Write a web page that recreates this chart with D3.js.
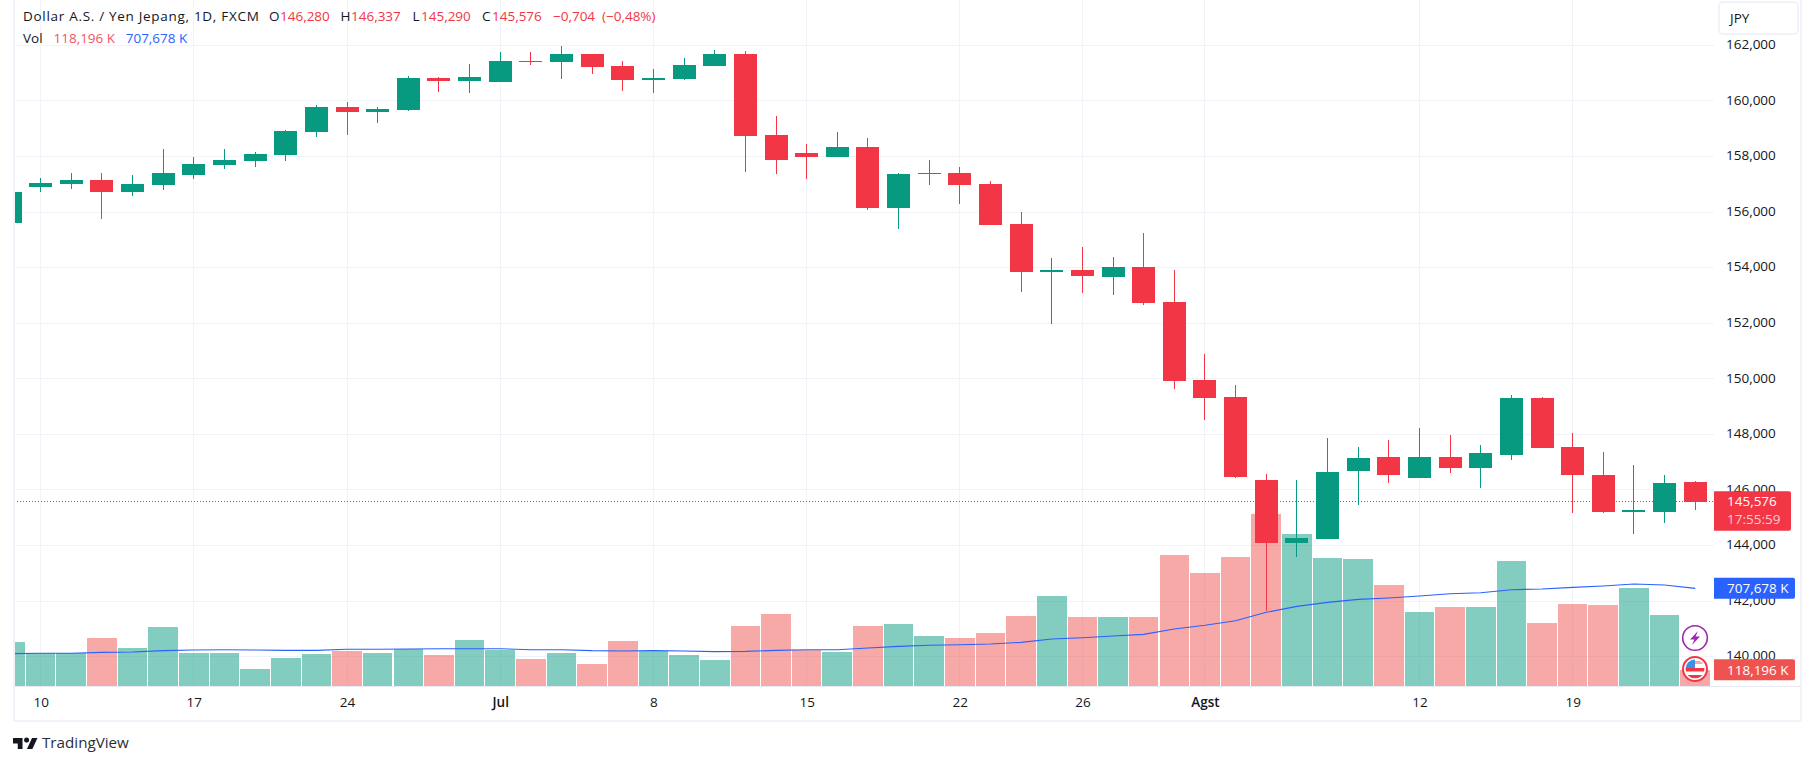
<!DOCTYPE html>
<html>
<head>
<meta charset="utf-8">
<script src="https://cdn.jsdelivr.net/npm/d3@7"></script>
<style>
  html, body { margin: 0; background: #fff; }
  svg { display: block; }
  text { font-family: "Open Sans", sans-serif; font-size: 13.5px; fill: #131722; }
  .domain { display: none; }
  .tick line { display: none; }
  .h-grid, .v-grid, .vol, .wick, .body, .frame, .last-line { shape-rendering: crispEdges; }
</style>
</head>
<body>
<svg id="chart"></svg>
<script>
var canvas_width = 1814;
var canvas_height = 765;

// daily bars, first one is cut off by the left edge of the pane
var opens = [155.61, 156.89, 157.00, 157.15, 156.71, 156.96, 157.33, 157.69, 157.83, 158.05,
  158.88, 159.78, 159.60, 159.67, 160.82, 160.71, 160.68, 161.44, 161.40, 161.69,
  161.26, 160.75, 160.79, 161.26, 161.69, 158.77, 158.12, 157.98, 158.34, 156.14,
  157.36, 157.40, 157.00, 155.56, 153.83, 153.90, 153.65, 154.01, 152.76, 149.95,
  149.34, 146.35, 144.10, 144.25, 146.67, 147.17, 146.41, 147.20, 146.77, 147.27,
  149.29, 147.56, 146.55, 145.22, 145.22, 146.280];
var highs = [156.71, 157.22, 157.42, 157.40, 157.33, 158.26, 157.98, 158.26, 158.16, 158.95,
  159.85, 159.96, 159.78, 160.90, 160.86, 161.33, 161.76, 161.76, 161.98, 161.69,
  161.44, 161.15, 161.54, 161.83, 161.80, 159.45, 158.44, 158.88, 158.66, 157.40,
  157.87, 157.62, 157.11, 156.00, 154.34, 154.73, 154.37, 155.24, 153.90, 150.89,
  149.77, 146.57, 146.37, 147.88, 147.53, 147.81, 148.21, 147.96, 147.60, 149.40,
  149.33, 148.03, 147.35, 146.88, 146.52, 146.337];
var lows = [155.61, 156.71, 156.82, 155.74, 156.57, 156.79, 157.18, 157.54, 157.62, 157.83,
  158.70, 158.77, 159.20, 159.63, 160.32, 160.28, 160.68, 161.29, 160.79, 160.97,
  160.35, 160.28, 160.75, 161.26, 157.44, 157.36, 157.18, 157.98, 156.07, 155.38,
  156.97, 156.28, 155.53, 153.11, 151.96, 153.07, 153.00, 152.64, 149.63, 148.51,
  146.42, 141.65, 143.60, 144.25, 145.45, 146.26, 146.41, 146.59, 146.05, 147.06,
  147.49, 145.18, 145.18, 144.43, 144.82, 145.290];
var closes = [156.71, 157.04, 157.15, 156.71, 157.00, 157.40, 157.72, 157.87, 158.08, 158.91,
  159.78, 159.60, 159.71, 160.82, 160.71, 160.86, 161.44, 161.40, 161.69, 161.22,
  160.75, 160.82, 161.29, 161.69, 158.73, 157.87, 157.98, 158.34, 156.14, 157.36,
  157.40, 156.97, 155.53, 153.83, 153.90, 153.69, 154.01, 152.71, 149.93, 149.30,
  146.46, 144.10, 144.28, 146.66, 147.16, 146.55, 147.20, 146.77, 147.31, 149.29,
  147.49, 146.52, 145.22, 145.26, 146.26, 145.576];
var volumes = [319, 237, 237, 348, 275, 427, 239, 239, 123, 203,
  232, 254, 239, 268, 225, 333, 263, 196, 239, 159,
  326, 254, 225, 188, 435, 522, 261, 246, 435, 449,
  362, 348, 384, 507, 652, 500, 500, 500, 949, 819,
  935, 1246, 1101, 927, 920, 732, 536, 572, 572, 906,
  456, 594, 587, 710, 514, 118.196];
var volume_ma = [234, 237, 237, 244, 246, 256, 261, 263, 261, 258,
  258, 266, 266, 268, 270, 270, 270, 263, 263, 256,
  254, 256, 254, 249, 251, 258, 263, 263, 275, 287,
  295, 299, 304, 316, 341, 350, 362, 374, 413, 440,
  473, 534, 577, 606, 628, 638, 652, 669, 676, 698,
  703, 715, 725, 739, 732, 707.678];

var price_ticks = [140, 142, 144, 146, 148, 150, 152, 154, 156, 158, 160, 162];
var time_tick_bars = [1, 6, 11, 16, 21, 26, 31, 35, 39, 46, 51];
var time_tick_labels = ["10", "17", "24", "Jul", "8", "15", "22", "26", "Agst", "12", "19"];
var bold_time_labels = ["Jul", "Agst"];

var last_price = 145.576;
var last_volume = 118.196;
var last_ma = 707.678;

var green = "#089981";
var red = "#f23645";
var vol_red = "#ef5350";
var blue = "#2962ff";
var border = "#f0f3fa";

var pane_left = 14;
var pane_right = 1714;
var pane_bottom = 686;
var body_width = 23;
var vol_width = 29.6;

var svg = d3.select("#chart").attr("width", canvas_width).attr("height", canvas_height);

var x = d3.scaleLinear().domain([0, 55]).range([10, 1695.2]);
var y = d3.scaleLinear().domain([140, 162]).range([656.6, 45.3]);
var y_vol = d3.scaleLinear().domain([0, 1000]).range([pane_bottom, pane_bottom - 138]);

var comma_num = d3.formatLocale({decimal: ",", thousands: ".", grouping: [3], currency: ["", ""]});
var price_fmt = comma_num.format(".3f");

svg.append("clipPath").attr("id", "pane-clip").append("rect")
  .attr("x", pane_left).attr("y", 0)
  .attr("width", pane_right - pane_left).attr("height", pane_bottom);

draw_grid();
var pane = svg.append("g").attr("clip-path", "url(#pane-clip)");
draw_volume();
draw_price_line();
draw_candles();
draw_axes();
draw_frame();
draw_labels();
draw_legend();
draw_icons();
draw_logo();

function draw_grid(){
  svg.selectAll(".h-grid")
    .data(price_ticks)
    .join("line")
    .attr("class", "h-grid")
    .attr("x1", pane_left).attr("x2", pane_right)
    .attr("y1", d => y(d)).attr("y2", d => y(d))
    .attr("stroke", border).attr("stroke-width", 1);

  svg.selectAll(".v-grid")
    .data(time_tick_bars)
    .join("line")
    .attr("class", "v-grid")
    .attr("x1", d => x(d)).attr("x2", d => x(d))
    .attr("y1", 0).attr("y2", pane_bottom)
    .attr("stroke", border).attr("stroke-width", 1);
}

function draw_volume(){
  pane.selectAll(".vol")
    .data(volumes)
    .join("rect")
    .attr("class", "vol")
    .attr("x", (d, i) => x(i) - vol_width / 2)
    .attr("y", d => y_vol(d))
    .attr("width", vol_width)
    .attr("height", d => pane_bottom - y_vol(d))
    .attr("fill", (d, i) => closes[i] >= opens[i] ? green : vol_red)
    .attr("fill-opacity", 0.5);

  var ma_line = d3.line().x((d, i) => x(i)).y(d => y_vol(d));
  pane.append("path")
    .attr("d", ma_line(volume_ma))
    .attr("fill", "none")
    .attr("stroke", blue)
    .attr("stroke-width", 1.1);
}

function draw_price_line(){
  pane.append("line")
    .attr("class", "last-line")
    .attr("x1", pane_left).attr("x2", pane_right)
    .attr("y1", y(last_price)).attr("y2", y(last_price))
    .attr("stroke", red)
    .attr("stroke-dasharray", "1 2");
}

function draw_candles(){
  var idx = d3.range(opens.length);
  var colour = i => closes[i] >= opens[i] ? green : red;

  pane.selectAll(".wick")
    .data(idx)
    .join("line")
    .attr("class", "wick")
    .attr("x1", i => x(i)).attr("x2", i => x(i))
    .attr("y1", i => y(highs[i])).attr("y2", i => y(lows[i]))
    .attr("stroke", colour)
    .attr("stroke-width", 1);

  pane.selectAll(".body")
    .data(idx)
    .join("rect")
    .attr("class", "body")
    .attr("x", i => x(i) - body_width / 2)
    .attr("y", i => y(Math.max(opens[i], closes[i])))
    .attr("width", body_width)
    .attr("height", i => Math.max(1, Math.abs(y(opens[i]) - y(closes[i]))))
    .attr("fill", colour);
}

function draw_axes(){
  var price_axis = d3.axisRight(y)
    .tickValues(price_ticks)
    .tickFormat(price_fmt)
    .tickSize(0)
    .tickPadding(0);
  svg.append("g")
    .attr("transform", "translate(1726,-1)")
    .call(price_axis)
    .selectAll("text")
    .attr("fill", "#131722");

  var time_axis = d3.axisBottom(x)
    .tickValues(time_tick_bars)
    .tickFormat(d => time_tick_labels[time_tick_bars.indexOf(d)])
    .tickSize(0)
    .tickPadding(0);
  var axis_g = svg.append("g")
    .attr("transform", "translate(0,697)")
    .call(time_axis);
  axis_g.selectAll("text")
    .style("font-weight", d => bold_time_labels.includes(time_tick_labels[time_tick_bars.indexOf(d)]) ? 600 : 400);
}

function draw_frame(){
  var lines = [
    [13.5, 0, 13.5, 721],
    [13.5, 721, 1801, 721],
    [1801, 0, 1801, 721]
  ];
  svg.selectAll(".frame")
    .data(lines)
    .join("line")
    .attr("class", "frame")
    .attr("x1", d => d[0]).attr("y1", d => d[1])
    .attr("x2", d => d[2]).attr("y2", d => d[3])
    .attr("stroke", border)
    .attr("stroke-width", 2);

  svg.append("line")
    .attr("class", "frame")
    .attr("x1", pane_left).attr("x2", 1800)
    .attr("y1", pane_bottom + 0.5).attr("y2", pane_bottom + 0.5)
    .attr("stroke", "#e8eaf1").attr("stroke-width", 1);

  svg.append("rect")
    .attr("x", 1719).attr("y", 2)
    .attr("width", 79).attr("height", 32)
    .attr("rx", 4)
    .attr("fill", "#fff")
    .attr("stroke", border).attr("stroke-width", 2);
  svg.append("text").attr("x", 1730).attr("y", 22.5).text("JPY");
}

function draw_labels(){
  var tag = function(y0, h, w, fill){
    svg.append("path")
      .attr("d", `M${pane_right},${y0}h${w - 2}q2,0 2,2v${h - 4}q0,2 -2,2h${-(w - 2)}z`)
      .attr("fill", fill);
  };
  var tag_text = function(ty, str, op){
    svg.append("text")
      .attr("x", 1727).attr("y", ty)
      .style("fill", "#fff")
      .style("fill-opacity", op)
      .text(str);
  };

  var py = y(last_price);
  tag(py - 10.5, 39.5, 77, red);
  tag_text(py + 4, price_fmt(last_price), 1);
  tag_text(py + 22, "17:55:59", 0.75);

  var my = y_vol(last_ma);
  tag(my - 10.5, 21, 81, blue);
  tag_text(my + 4.5, price_fmt(last_ma) + " K", 1);

  var vy = y_vol(last_volume);
  tag(vy - 10.5, 21, 81, vol_red);
  tag_text(vy + 5, price_fmt(last_volume) + " K", 1);
}

function draw_legend(){
  var rows = [
    [269, 21, "O", "#131722"],
    [280, 21, "146,280", red],
    [340.5, 21, "H", "#131722"],
    [351, 21, "146,337", red],
    [412.5, 21, "L", "#131722"],
    [421, 21, "145,290", red],
    [482, 21, "C", "#131722"],
    [492, 21, "145,576", red],
    [553, 21, "\u22120,704", red],
    [602, 21, "(\u22120,48%)", red],
    [23, 43, "Vol", "#131722"],
    [53.5, 43, "118,196 K", "#f7525f"],
    [125.7, 43, "707,678 K", blue]
  ];
  svg.selectAll(".legend")
    .data(rows)
    .join("text")
    .attr("class", "legend")
    .attr("x", d => d[0]).attr("y", d => d[1])
    .style("fill", d => d[3])
    .text(d => d[2]);

  svg.append("text")
    .attr("x", 23).attr("y", 21)
    .style("letter-spacing", "0.7px")
    .text("Dollar A.S. / Yen Jepang, 1D, FXCM");
}

function draw_icons(){
  var bolt = svg.append("g").attr("transform", "translate(1695,638)");
  bolt.append("circle").attr("r", 12.3)
    .attr("fill", "#fff").attr("stroke", "#9c27b0").attr("stroke-width", 1.6);
  bolt.append("path")
    .attr("d", "M3,-7L-5,1.5H-0.5L-3,7L5,-1.5H0.5Z")
    .attr("fill", "#9c27b0");

  svg.append("clipPath").attr("id", "flag-clip").append("circle")
    .attr("cx", 1695).attr("cy", 669).attr("r", 9.5);
  svg.append("circle")
    .attr("cx", 1695).attr("cy", 669).attr("r", 12)
    .attr("fill", "#fff").attr("stroke", red).attr("stroke-width", 2);
  var flag = svg.append("g").attr("clip-path", "url(#flag-clip)");
  flag.append("rect").attr("x", 1684).attr("y", 668).attr("width", 22).attr("height", 3.5).attr("fill", red);
  flag.append("rect").attr("x", 1684).attr("y", 675).attr("width", 22).attr("height", 3.5).attr("fill", red);
  flag.append("rect").attr("x", 1684).attr("y", 659).attr("width", 11).attr("height", 9).attr("fill", "#3d8fe0");
  flag.append("rect").attr("x", 1695).attr("y", 661).attr("width", 11).attr("height", 3).attr("fill", "#f7a7a9");
}

function draw_logo(){
  var logo = svg.append("g")
    .attr("transform", "translate(13,734) scale(0.68)")
    .attr("fill", "#131722");
  logo.append("path").attr("d", "M14 6H0v8h7v8h7V6Z");
  logo.append("path").attr("d", "M28 6h8l-7.5 16h-8l7.5-16Z");
  logo.append("circle").attr("cx", 20).attr("cy", 9).attr("r", 3.7);
  svg.append("text")
    .attr("x", 42).attr("y", 748)
    .style("font-size", "15.2px")
    .style("fill", "#2a2e39")
    .text("TradingView");
}
</script>
</body>
</html>
